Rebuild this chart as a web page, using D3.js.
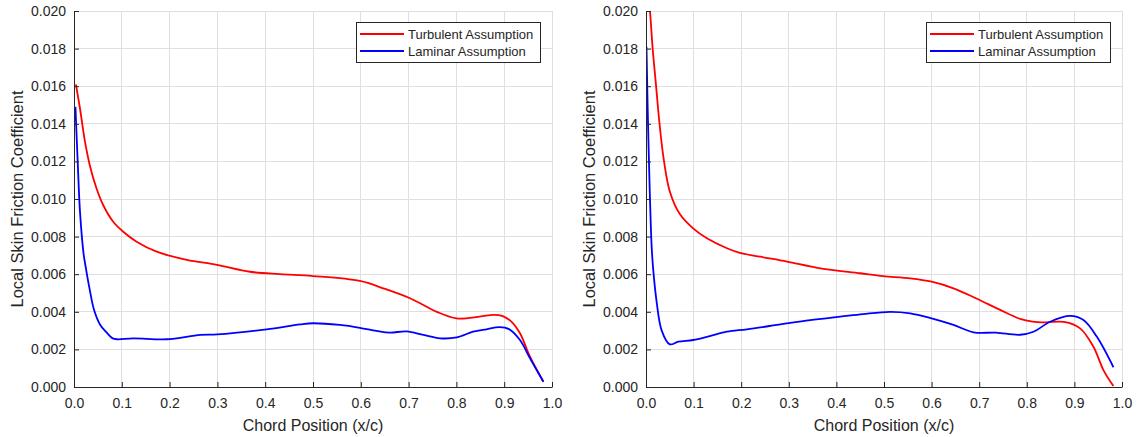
<!DOCTYPE html>
<html>
<head>
<meta charset="utf-8">
<script src="https://cdn.jsdelivr.net/npm/d3@7"></script>
<style>
  body { margin: 0; background: #fff; }
  text { font-family: "Liberation Sans", Arial, sans-serif; fill: #262626; }
</style>
</head>
<body>
<div id="chart"></div>
<script>
// data: [x/c, Cf]
var leftTurbulent = [
    [0.004,0.0161],[0.0126,0.0148],[0.023,0.01305],[0.033,0.0118],[0.047,0.01057],
    [0.061,0.00968],[0.082,0.00879],[0.103,0.00826],[0.131,0.00773],[0.173,0.0072],
    [0.236,0.00676],[0.299,0.0065],[0.368,0.00613],[0.431,0.0060],[0.5,0.0059],
    [0.598,0.00564],[0.647,0.00525],[0.703,0.00472],[0.759,0.0040],[0.8,0.00365],
    [0.849,0.00374],[0.878,0.00384],[0.897,0.00377],[0.915,0.00348],[0.933,0.00286],
    [0.954,0.00161],[0.982,0.00028]
];
var leftLaminar = [
    [0.003,0.0149],[0.008,0.0118],[0.0126,0.0093],[0.02,0.0071],[0.025,0.0063],
    [0.032,0.0053],[0.042,0.0041],[0.055,0.0033],[0.068,0.0029],[0.08,0.0026],
    [0.09,0.00254],[0.124,0.00259],[0.194,0.00254],[0.264,0.00277],[0.3,0.0028],
    [0.403,0.00307],[0.473,0.00333],[0.5,0.00339],[0.556,0.0033],[0.598,0.00315],
    [0.633,0.00298],[0.661,0.00289],[0.696,0.00296],[0.731,0.00277],[0.766,0.00259],
    [0.801,0.00264],[0.835,0.00294],[0.863,0.00307],[0.89,0.00318],[0.91,0.00308],
    [0.933,0.0025],[0.954,0.00153],[0.982,0.00028]
];
var rightTurbulent = [
    [0.003,0.0215],[0.0084,0.0200],[0.014,0.0180],[0.021,0.01606],[0.028,0.01411],
    [0.037,0.01216],[0.05,0.0104],[0.071,0.0092],[0.099,0.00844],[0.128,0.00791],
    [0.17,0.00738],[0.197,0.00714],[0.24,0.00693],[0.296,0.00667],[0.366,0.00631],
    [0.45,0.00605],[0.498,0.0059],[0.555,0.00578],[0.6,0.0056],[0.646,0.00525],
    [0.693,0.00472],[0.744,0.0041],[0.786,0.00362],[0.812,0.00348],[0.84,0.00344],
    [0.878,0.00346],[0.912,0.00312],[0.94,0.00214],[0.961,0.0009],[0.982,0.00005]
];
var rightLaminar = [
    [0.001,0.0181],[0.005,0.0132],[0.012,0.0074],[0.016,0.0060],[0.022,0.0046],
    [0.033,0.0030],[0.05,0.00227],[0.068,0.00241],[0.099,0.0025],[0.134,0.00271],
    [0.17,0.00294],[0.212,0.00307],[0.275,0.0033],[0.345,0.00356],[0.408,0.00374],
    [0.456,0.00388],[0.513,0.0040],[0.555,0.00392],[0.6,0.00365],[0.646,0.0033],
    [0.688,0.00291],[0.735,0.00289],[0.786,0.00278],[0.814,0.00294],[0.849,0.00347],
    [0.891,0.00378],[0.919,0.00356],[0.947,0.00268],[0.982,0.00105]
];

var xTicks = [0, 0.1, 0.2, 0.3, 0.4, 0.5, 0.6, 0.7, 0.8, 0.9, 1.0];
var yTicks = [0, 0.002, 0.004, 0.006, 0.008, 0.010, 0.012, 0.014, 0.016, 0.018, 0.020];
var seriesNames = ["Turbulent Assumption", "Laminar Assumption"];
var seriesColors = ["#ff0000", "#0000ff"];

var W = 1143, H = 437;
var svg = d3.select("#chart").append("svg")
    .attr("width", W).attr("height", H);

var panels = [
    {left: 74, right: 552, data: [leftTurbulent, leftLaminar], ylabX: 17},
    {left: 646, right: 1122, data: [rightTurbulent, rightLaminar], ylabX: 589}
];
var plotTop = 11, plotBottom = 387;

panels.forEach(function(p, i) {
    var x = d3.scaleLinear().domain([0, 1]).range([p.left, p.right]);
    var y = d3.scaleLinear().domain([0, 0.02]).range([plotBottom, plotTop]);
    var g = svg.append("g");

    // grid
    g.selectAll(".xg").data(xTicks).enter().append("line")
        .attr("x1", function(d) { return x(d); }).attr("x2", function(d) { return x(d); })
        .attr("y1", plotTop).attr("y2", plotBottom)
        .attr("stroke", "#dfdfdf").attr("stroke-width", 1).attr("shape-rendering", "crispEdges");
    g.selectAll(".yg").data(yTicks).enter().append("line")
        .attr("x1", p.left).attr("x2", p.right)
        .attr("y1", function(d) { return y(d); }).attr("y2", function(d) { return y(d); })
        .attr("stroke", "#dfdfdf").attr("stroke-width", 1).attr("shape-rendering", "crispEdges");

    // clip
    var clipId = "clip" + i;
    svg.append("clipPath").attr("id", clipId).append("rect")
        .attr("x", p.left).attr("y", plotTop).attr("width", p.right - p.left).attr("height", plotBottom - plotTop);

    var line = d3.line()
        .x(function(d) { return x(d[0]); })
        .y(function(d) { return y(d[1]); })
        .curve(d3.curveCatmullRom.alpha(0.5));

    g.append("g").attr("clip-path", "url(#" + clipId + ")")
        .selectAll("path").data(p.data).enter().append("path")
        .attr("d", line)
        .attr("fill", "none")
        .attr("stroke", function(d, k) { return seriesColors[k]; })
        .attr("stroke-width", 1.8);

    // axes (ticks inward)
    var xAxis = g.append("g")
        .attr("transform", "translate(0," + plotBottom + ")")
        .call(d3.axisBottom(x).tickValues(xTicks).tickFormat(d3.format(".1f"))
            .tickSizeInner(-5).tickSizeOuter(0).tickPadding(11));
    var yAxis = g.append("g")
        .attr("transform", "translate(" + p.left + ",0)")
        .call(d3.axisLeft(y).tickValues(yTicks).tickFormat(d3.format(".3f"))
            .tickSizeInner(-5).tickSizeOuter(0).tickPadding(8));
    [xAxis, yAxis].forEach(function(a) {
        a.select(".domain").attr("stroke", "#262626");
        a.selectAll(".tick line").attr("stroke", "#262626");
        a.selectAll("text").style("font-size", "14px")
            .style("font-family", "'Liberation Sans', Arial, sans-serif").attr("fill", "#262626");
    });

    // axis labels
    g.append("text")
        .attr("x", (p.left + p.right) / 2).attr("y", 431)
        .attr("text-anchor", "middle").style("font-size", "16px")
        .text("Chord Position (x/c)");
    g.append("text")
        .attr("transform", "translate(" + (p.ylabX + 6) + "," + (plotTop + plotBottom) / 2 + ")rotate(-90)")
        .attr("text-anchor", "middle").style("font-size", "16.5px")
        .text("Local Skin Friction Coefficient");

    // legend
    var lx = p.right - 196, ly = 22;
    var leg = g.append("g");
    leg.append("rect").attr("x", lx + 0.5).attr("y", ly + 0.5).attr("width", 184).attr("height", 40)
        .attr("fill", "#fff").attr("stroke", "#262626").attr("stroke-width", 1);
    seriesNames.forEach(function(name, k) {
        var yy = ly + 12 + k * 17;
        leg.append("line").attr("x1", lx + 4).attr("x2", lx + 48)
            .attr("y1", yy).attr("y2", yy)
            .attr("stroke", seriesColors[k]).attr("stroke-width", 1.8);
        leg.append("text").attr("x", lx + 52).attr("y", yy + 4.5)
            .style("font-size", "13px").text(name);
    });
});
</script>
</body>
</html>
